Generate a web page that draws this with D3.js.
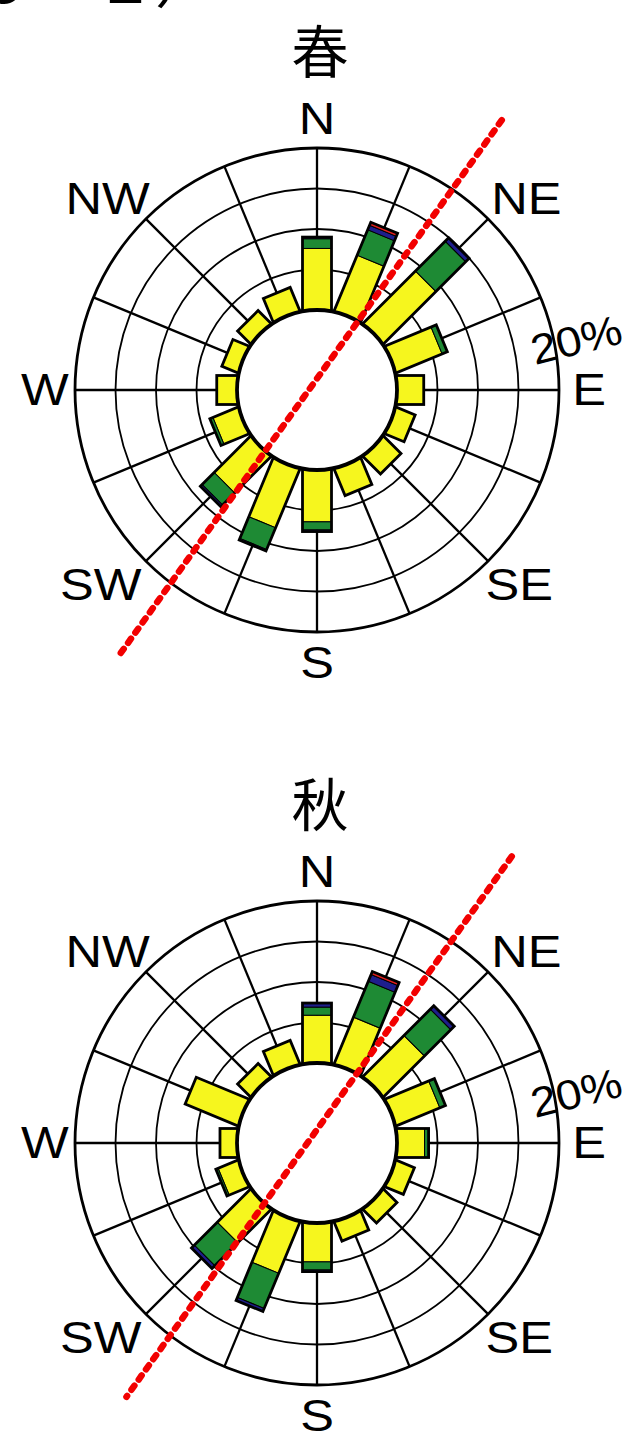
<!DOCTYPE html>
<html><head><meta charset="utf-8">
<script src="https://cdn.jsdelivr.net/npm/d3@7"></script>
<style>html,body{margin:0;padding:0;background:#fff;}svg{display:block;}</style>
</head><body>
<script>
// 16-point compass, clockwise from north
const directions = ["N","NNE","NE","ENE","E","ESE","SE","SSE","S","SSW","SW","WSW","W","WNW","NW","NNW"];
const labeledDirections = ["N","NE","E","SE","S","SW","W","NW"];
const speedClasses = ["light","moderate","strong","gale"];
const classColors = ["#f6f61e","#1e8a34","#1e1e8c","#e31e1e"];
const ringTicks = [5, 10, 15, 20];
const ringLabel = "20%";
const seasonTitles = ["春", "秋"];
const headingText = "（図５－１）";

// frequency (%) by direction for each speed class
const springLight    = [7.6, 7.4, 9.1, 6.1, 3.3, 2.5, 3.0, 3.5, 6.4, 7.8, 6.3, 3.3, 2.5, 2.1, 2.2, 3.1];
const springModerate = [1.2, 3.4, 5.2, 0.7, 0, 0, 0, 0, 1.0, 2.9, 2.1, 0.4, 0, 0, 0, 0];
const springStrong   = [0.2, 0.6, 0.6, 0, 0, 0, 0, 0, 0.2, 0.2, 0.3, 0, 0, 0, 0, 0];
const springGale     = [0, 0.4, 0, 0, 0, 0, 0, 0, 0, 0, 0, 0, 0, 0, 0, 0];

const autumnLight    = [5.9, 6.2, 7.1, 5.8, 3.4, 2.4, 2.3, 2.5, 4.8, 6.8, 5.75, 2.6, 2.1, 7.0, 2.2, 3.1];
const autumnModerate = [1.0, 4.8, 4.6, 0.75, 0.5, 0, 0, 0, 1.0, 4.7, 4.0, 0.3, 0, 0, 0, 0];
const autumnStrong   = [0.5, 0.9, 0.6, 0, 0, 0, 0, 0, 0.2, 0.4, 0.5, 0, 0, 0, 0, 0];
const autumnGale     = [0, 0.4, 0, 0, 0, 0, 0, 0, 0, 0, 0, 0, 0, 0, 0, 0];

// prevailing-wind axis: [bearing°, distance in % units] for each end
const springAxis = [[34.4, 30.5], [216.7, 31.5]];
const autumnAxis = [[34.2, 32.9], [216.9, 29.3]];

const W = 626, H = 1437;
const cx = 317;
const innerR = 80, outerR = 242;
const barWidth = 29;
const labelStretch = 1.15;

const svg = d3.select("body").append("svg").attr("width", W).attr("height", H);

const radius = d3.scaleLinear().domain([0, 20]).range([innerR, outerR]);
const bearing = d3.scaleOrdinal().domain(directions).range(d3.range(0, 360, 22.5));
const color = d3.scaleOrdinal().domain(speedClasses).range(classColors);

function polar(b, r) {
  const a = b * Math.PI / 180;
  return [Math.sin(a) * r, -Math.cos(a) * r];
}

// heading line running off the top edge
svg.append("text")
  .attr("x", 215).attr("y", 3)
  .attr("text-anchor", "end")
  .attr("font-family", "'Noto Sans CJK JP'")
  .attr("font-size", 60)
  .attr("fill", "#000")
  .text(headingText);

function drawRose(cy, title, series, axis) {
  const g = svg.append("g").attr("transform", `translate(${cx},${cy})`);

  const rows = directions.map((d, i) => ({
    dir: d,
    light: series[0][i], moderate: series[1][i], strong: series[2][i], gale: series[3][i]
  }));
  const stacked = d3.stack().keys(speedClasses)(rows);

  // grid rings
  g.selectAll("circle.ring").data(ringTicks).join("circle")
    .attr("class", "ring")
    .attr("r", d => radius(d))
    .attr("fill", "none").attr("stroke", "#000")
    .attr("stroke-width", d => d === 20 ? 2.8 : 1.8);

  // spokes
  g.selectAll("line.spoke").data(directions).join("line")
    .attr("class", "spoke")
    .attr("x1", d => polar(bearing(d), innerR)[0])
    .attr("y1", d => polar(bearing(d), innerR)[1])
    .attr("x2", d => polar(bearing(d), outerR)[0])
    .attr("y2", d => polar(bearing(d), outerR)[1])
    .attr("stroke", "#000").attr("stroke-width", 2.3);

  // stacked bars, one rotated group per direction
  const bars = g.selectAll("g.bar").data(rows).join("g")
    .attr("class", "bar")
    .attr("transform", d => `rotate(${bearing(d.dir)})`);

  bars.each(function(row, i) {
    const bg = d3.select(this);
    const segs = stacked.map(layer => ({ key: layer.key, y0: layer[i][0], y1: layer[i][1] }))
      .filter(s => s.y1 > s.y0);
    const total = segs.length ? segs[segs.length - 1].y1 : 0;
    bg.selectAll("rect.seg").data(segs).join("rect")
      .attr("class", "seg")
      .attr("x", -barWidth / 2)
      .attr("width", barWidth)
      .attr("y", s => -radius(s.y1))
      .attr("height", s => radius(s.y1) - (s.y0 === 0 ? radius(0) - 8 : radius(s.y0)))
      .attr("fill", s => color(s.key))
      .attr("stroke", "#000").attr("stroke-width", 1);
    bg.append("rect")
      .attr("x", -barWidth / 2).attr("width", barWidth)
      .attr("y", -radius(total))
      .attr("height", radius(total) - radius(0) + 8)
      .attr("fill", "none").attr("stroke", "#000").attr("stroke-width", 2.8);
  });

  // calm circle
  g.append("circle").attr("r", innerR)
    .attr("fill", "#fff").attr("stroke", "#000").attr("stroke-width", 3.8);

  // compass labels: cardinals on a circle, intercardinals pushed out sideways
  g.selectAll("text.dir").data(labeledDirections).join("text")
    .attr("class", "dir")
    .attr("transform", d => {
      const b = bearing(d);
      const card = b % 90 === 0;
      const lower = b > 90 && b < 270;
      let x = polar(b, card ? 272 : 296)[0];
      let y = polar(b, 271)[1];
      if (!card && lower) { x -= 7; y += 3; }
      if (b === 180) y += 2;
      return `translate(${x},${y}) scale(${labelStretch},1)`;
    })
    .attr("text-anchor", "middle")
    .attr("dominant-baseline", "central")
    .attr("font-family", "'Liberation Sans', Arial, sans-serif")
    .attr("font-size", 44)
    .attr("fill", "#000")
    .text(d => d);

  // ring scale label
  const lp = polar(79, radius(20) + 22);
  g.append("text")
    .attr("transform", `translate(${lp[0]},${lp[1]}) rotate(-14) scale(1.1,1)`)
    .attr("text-anchor", "middle")
    .attr("dominant-baseline", "central")
    .attr("font-family", "'Liberation Sans', Arial, sans-serif")
    .attr("font-size", 42)
    .attr("fill", "#000")
    .text(ringLabel);

  // season title
  g.append("text")
    .attr("x", 3).attr("y", -342)
    .attr("text-anchor", "middle")
    .attr("dominant-baseline", "central")
    .attr("font-family", "'Noto Sans CJK JP'")
    .attr("font-size", 57)
    .attr("fill", "#000")
    .text(title);

  // prevailing-wind axis
  const pts = axis.map(([b, p]) => polar(b, radius(p)));
  g.append("path")
    .attr("d", d3.line()(pts))
    .attr("stroke", "#f20000").attr("stroke-width", 6.5)
    .attr("stroke-linecap", "round")
    .attr("stroke-dasharray", "5 7.5")
    .attr("fill", "none");
}

drawRose(390, seasonTitles[0], [springLight, springModerate, springStrong, springGale], springAxis);
drawRose(1143, seasonTitles[1], [autumnLight, autumnModerate, autumnStrong, autumnGale], autumnAxis);
</script>
</body></html>
